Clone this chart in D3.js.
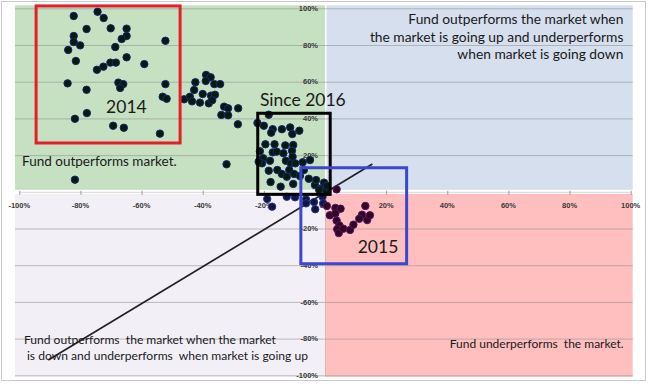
<!DOCTYPE html>
<html>
<head>
<meta charset="utf-8">
<script src="https://cdn.jsdelivr.net/npm/d3@7"></script>
<style>
  html, body { margin: 0; padding: 0; background: #fff; }
  svg { display: block; }
  .tick-label { font-family: "Liberation Sans", Arial, sans-serif; font-weight: bold; font-size: 7.5px; fill: #3a3a3a; }
  .note { font-family: Lato, "Open Sans", sans-serif; fill: #1a1a1a; }
</style>
</head>
<body>
<svg id="chart" width="650" height="384"></svg>
<script>
/* Fund vs market scatter: x = market return, y = fund out/under performance (%) */
const xTicks = [-100, -80, -60, -40, -20, 0, 20, 40, 60, 80, 100];
const yTicks = [100, 80, 60, 40, 20, -20, -40, -60, -80, -100];

// 2014
const x2014 = [-82.2, -74.4, -72.4, -78.0, -70.1, -64.9, -82.2, -64.9, -66.5, -52.2, -82.2, -80.1, -84.0, -68.6, -81.5, -64.9, -70.2, -68.4, -59.1, -72.5, -74.6, -84.2, -67.6, -66.0, -67.0, -52.2, -78.0, -53.1, -51.8, -77.9, -81.8, -69.3, -65.8, -54.0, -81.8];
const y2014 = [95.8, 98.1, 94.7, 88.7, 89.1, 88.9, 84.9, 84.9, 83.3, 82.3, 81.6, 79.8, 77.3, 78.9, 71.3, 73.3, 70.4, 70.4, 69.6, 68.2, 66.5, 59.1, 59.5, 58.7, 56.6, 58.7, 55.6, 51.8, 50.7, 42.9, 39.8, 36.0, 34.9, 31.7, 6.6];

// transition
const xMid = [-46.1, -38.9, -37.4, -42.4, -39.0, -36.2, -34.3, -42.8, -40.0, -37.3, -36.0, -44.2, -43.5, -40.9, -38.0, -36.9, -33.0, -31.7, -28.4, -33.9, -31.7, -28.5, -32.2, -22.1, -21.3];
const yMid = [50.4, 63.7, 62.4, 59.7, 60.4, 58.7, 58.7, 55.5, 53.3, 52.4, 52.9, 51.8, 49.3, 48.6, 48.2, 49.9, 46.4, 45.5, 45.5, 41.9, 41.7, 36.8, 15.0, 37.5, 17.3];

// since 2016
const x2016 = [-18.4, -20.0, -17.1, -17.6, -14.1, -11.4, -8.4, -10.7, -19.5, -16.5, -13.0, -10.4, -17.1, -10.8, -20.2, -18.0, -20.6, -10.6, -12.8, -11.2, -9.7, -7.3, -4.9, -18.4, -15.6, -14.1, -11.7, -10.1, -12.5, -8.2, -5.3, -17.8, -14.5, -10.4, -3.3, -0.3, -1.6, 0.8, -21.7, -21.3, -6.9, -2.9, 0.6, 0.3, 0.6, -1.9, -13.6, -15.8];
const y2016 = [42.0, 36.0, 34.1, 32.2, 34.1, 35.1, 33.3, 31.5, 25.9, 25.9, 25.3, 25.5, 21.5, 22.4, 18.3, 16.9, 15.5, 19.1, 16.9, 15.5, 15.5, 16.1, 17.3, 11.5, 11.9, 9.7, 11.9, 9.7, 8.2, 8.6, 7.1, 5.3, 2.8, 4.3, 3.7, 5.0, 1.7, 1.4, 16.4, 22.1, 11.9, 6.4, 3.3, 0.6, 3.2, 1.0, 21.0, 21.9];

// 2015
const x2015 = [-18.9, -17.3, -12.5, -9.8, -6.2, -3.6, -3.2, -6.2, -0.8, -0.6, 3.8, 0.6, 3.4, 5.1, 13.2, 1.6, 3.4, 3.8, 4.7, 4.0, 4.5, 6.0, 8.2, 9.3, 12.1, 11.2, 13.8, 14.7];
const y2015 = [-3.9, -8.1, -2.7, -3.0, -4.1, -5.6, -9.5, -6.3, -2.7, -6.3, 1.3, -7.7, -8.8, -9.2, -7.7, -12.8, -11.8, -15.7, -18.3, -20.4, -22.5, -20.1, -20.8, -17.9, -12.5, -14.7, -15.4, -12.8];

const trendX = [-90.5, 15.5];
const trendY = [-91.7, 15.1];

// highlight boxes [x0, x1, y0, y1]
const boxes = [
  { label: "2014", ext: [-94.5, -47.4, 101.3, 26.6], color: "#e3202a", tx: -71.6, ty: 42.7, size: 17.5 },
  { label: "Since 2016", ext: [-22.0, 1.7, 42.8, -1.4], color: "#000000", tx: -21.3, ty: 46.5, size: 17.5 },
  { label: "2015", ext: [-7.9, 26.7, 13.1, -39.2], color: "#3b47cf", tx: 10.7, ty: -33.2, size: 17.5 }
];

const svg = d3.select("#chart");
const x = d3.scaleLinear().domain([-100, 100]).range([19.3, 630.7]);
const y = d3.scaleLinear().domain([-100, 100]).range([375.3, 8.3]);

// outer frame
svg.append("rect").attr("x", 1.5).attr("y", 1.5).attr("width", 644).attr("height", 379)
  .attr("fill", "#fff").attr("stroke", "#c9c9c9");

// quadrants
const L = x(-100) - 4.3, R = x(100) + 2, T = y(100) - 3, B = y(-100) + 1.5;
const quads = [
  [L, x(0), T, y(0) - 2, "#c6e0c2"],
  [x(0) + 1.5, R, T, y(0) - 2, "#d5dfed"],
  [L, x(0), y(0) + 2, B, "#f2eff6"],
  [x(0) + 1.5, R, y(0) + 2, B, "#ffbfbf"]
];
svg.append("g").selectAll("rect").data(quads).join("rect")
  .attr("x", (d) => d[0]).attr("y", (d) => d[2])
  .attr("width", (d) => d[1] - d[0]).attr("height", (d) => d[3] - d[2])
  .attr("fill", (d) => d[4]);

// gridlines
svg.append("g").selectAll("line").data(yTicks).join("line")
  .attr("x1", L).attr("x2", R)
  .attr("y1", (d) => y(d) + 0.5).attr("y2", (d) => y(d) + 0.5)
  .attr("stroke", "#8e8e8e").attr("stroke-opacity", 0.55);

// axes
svg.append("line").attr("x1", x(0) + 0.8).attr("x2", x(0) + 0.8).attr("y1", y(0) + 2).attr("y2", B)
  .attr("stroke", "#d88d8f");
svg.append("line").attr("x1", x(-100)).attr("x2", x(100)).attr("y1", y(0) + 0.5).attr("y2", y(0) + 0.5)
  .attr("stroke", "#d9d9d9");
svg.append("g").selectAll("line").data(xTicks).join("line")
  .attr("x1", (d) => x(d) + 0.5).attr("x2", (d) => x(d) + 0.5)
  .attr("y1", y(0) - 1).attr("y2", y(0) + 3)
  .attr("stroke", "#9a9a9a");

svg.append("g").selectAll("text").data(xTicks).join("text")
  .attr("class", "tick-label")
  .attr("x", (d) => x(d)).attr("y", y(0) + 16)
  .attr("text-anchor", "middle")
  .text((d) => d + "%");
svg.append("g").selectAll("text").data(yTicks).join("text")
  .attr("class", "tick-label")
  .attr("x", x(0) - 7).attr("y", (d) => y(d) + 2.7)
  .attr("text-anchor", "end")
  .text((d) => d + "%");

// quadrant notes
const notes = [
  { lines: ["Fund outperforms the market when", "the market is going up and underperforms", "when market is going down"], x: 97.6, y: 91.4, anchor: "end", size: 13.8, lh: 17.5 },
  { lines: ["Fund outperforms market."], x: -99.1, y: 13.8, anchor: "start", size: 13.5, lh: 0 },
  { lines: ["Fund outperforms  the market when the market", " is down and underperforms  when market is going up"], x: -98.5, y: -82.8, anchor: "start", size: 12.1, lh: 16.5 },
  { lines: ["Fund underperforms  the market."], x: 97.7, y: -85, anchor: "end", size: 12, lh: 0 }
];
notes.forEach((n) => {
  const t = svg.append("text").attr("class", "note")
    .attr("x", x(n.x)).attr("y", y(n.y))
    .attr("text-anchor", n.anchor)
    .style("font-size", n.size + "px")
    .attr("xml:space", "preserve");
  n.lines.forEach((line, i) => {
    t.append("tspan").attr("x", x(n.x)).attr("dy", i ? n.lh : 0).text(line);
  });
});

// trend line
svg.append("line")
  .attr("x1", x(trendX[0])).attr("y1", y(trendY[0]))
  .attr("x2", x(trendX[1])).attr("y2", y(trendY[1]))
  .attr("stroke", "#222").attr("stroke-width", 1.7);

// points
function tone(px, py) {
  if (px > 2 || (px > 0 && py < 0)) return ["#33061f", "#4e1468"];
  if (py < 0) return ["#0f1640", "#28348f"];
  return ["#071a0d", "#15276e"];
}
const allPts = [[x2014, y2014], [xMid, yMid], [x2016, y2016], [x2015, y2015]]
  .flatMap(([xs, ys]) => xs.map((v, i) => [v, ys[i]]));
svg.append("g").selectAll("circle").data(allPts).join("circle")
  .attr("cx", (d) => x(d[0])).attr("cy", (d) => y(d[1]))
  .attr("r", 3.7)
  .attr("fill", (d) => tone(d[0], d[1])[0])
  .attr("stroke", (d) => tone(d[0], d[1])[1])
  .attr("stroke-width", 1);

// boxes
boxes.forEach((b) => {
  const [x0, x1, y0, y1] = b.ext;
  svg.append("rect")
    .attr("x", x(x0)).attr("y", y(y0))
    .attr("width", x(x1) - x(x0)).attr("height", y(y1) - y(y0))
    .attr("fill", "none").attr("stroke", b.color).attr("stroke-width", 3);
  svg.append("text").attr("class", "note")
    .attr("x", x(b.tx)).attr("y", y(b.ty))
    .style("font-size", b.size + "px")
    .text(b.label);
});
</script>
</body>
</html>
